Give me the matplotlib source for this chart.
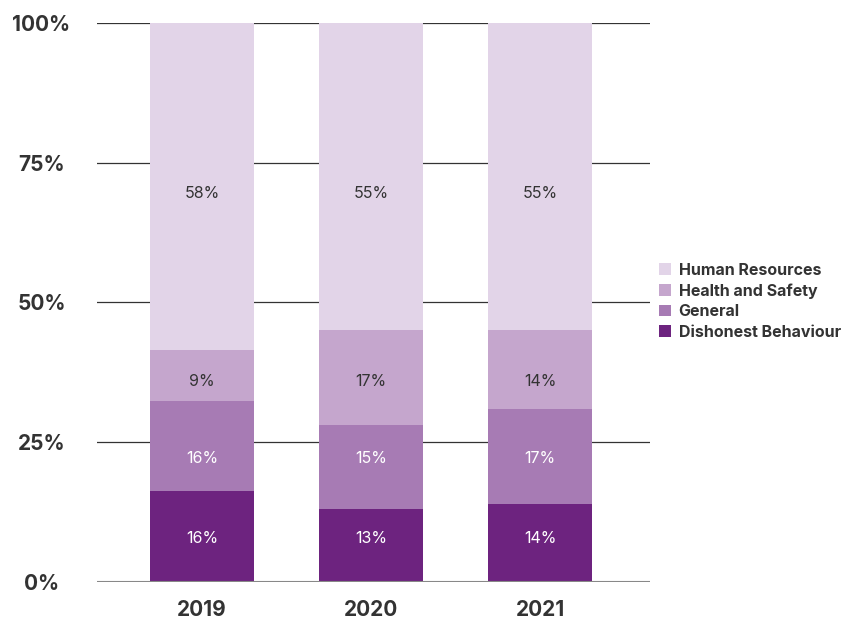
import matplotlib.pyplot as plt
import numpy as np

plt.rcParams['font.family'] = ['Inter', 'DejaVu Sans']

years = ['2019', '2020', '2021']
categories = ['Dishonest Behaviour', 'General', 'Health and Safety', 'Human Resources']
dishonest = [16, 13, 14]
general = [16, 15, 17]
health_safety = [9, 17, 14]
human_resources = [58, 55, 55]

colors = ['#6d237f', '#a77bb4', '#c5a6cd', '#e2d4e8']
text_colors = ['white', 'white', '#333333', '#333333']
# value labels sit on one row per category
label_rows = [7.7, 22.0, 35.9, 69.6]

series = np.array([dishonest, general, health_safety, human_resources], dtype=float)
# stacked to 100% per year
shares = series / series.sum(axis=0) * 100

fig = plt.figure(figsize=(8.52, 6.21), dpi=100)
ax = fig.add_axes([0.1138, 0.0633, 0.6492, 0.8992])

x = np.arange(len(years))
bottom = np.zeros(len(years))
bars = []
for vals, share, col, tcol, row, name in zip(series, shares, colors, text_colors,
                                             label_rows, categories):
    b = ax.bar(x, share, width=0.615, bottom=bottom, color=col, label=name, zorder=3)
    bars.append(b)
    for xi, v in zip(x, vals):
        ax.text(xi, row, f'{v:.0f}%', ha='center', va='center',
                color=tcol, fontsize=11.5, zorder=4)
    bottom += share

ax.set_xlim(-0.621, 2.651)
ax.set_ylim(0, 100)
ax.set_yticks([0, 25, 50, 75, 100])
ax.set_yticklabels(['0%', '25%', '50%', '75%', '100%'])
ax.set_xticks(x)
ax.set_xticklabels(years)
for lab in ax.get_yticklabels() + ax.get_xticklabels():
    lab.set_fontweight('bold')
    lab.set_fontsize(15)
    lab.set_color('#333333')
ax.tick_params(axis='y', length=0, pad=40)
ax.tick_params(axis='x', length=0, pad=13)
for lab in ax.get_yticklabels():
    lab.set_horizontalalignment('center')

for s in ax.spines.values():
    s.set_visible(False)
for yv in [25, 50, 75, 100]:
    ax.axhline(yv, color='#333333', lw=0.9, zorder=1)
ax.axhline(0, color='#888888', lw=1.5, zorder=5)

handles = bars[::-1]
labels = categories[::-1]
leg = fig.legend(handles, labels, loc='center left', bbox_to_anchor=(0.773, 0.515),
                 frameon=False, handlelength=0.75, handleheight=0.75,
                 handletextpad=0.5, labelspacing=0.34, borderpad=0, borderaxespad=0,
                 prop={'weight': 'bold', 'size': 11.5})
for t in leg.get_texts():
    t.set_color('#333333')

fig.savefig('out.png', dpi=100)
